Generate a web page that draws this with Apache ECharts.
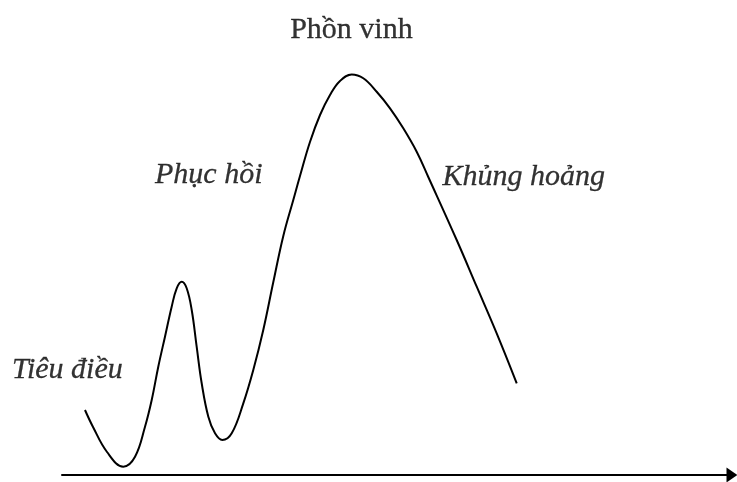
<!DOCTYPE html>
<html>
<head>
<meta charset="utf-8">
<script src="https://cdn.jsdelivr.net/npm/echarts@6/dist/echarts.min.js"></script>
<style>
html,body{margin:0;padding:0;background:#fff;}
#chart{width:737px;height:482px;}
</style>
</head>
<body>
<div id="chart"></div>
<script>
// Business cycle curve (time vs. economic activity)
var timeX = [3.43, 4.63, 6.72, 9.15, 10.90, 12.39, 13.39, 14.37, 15.37, 16.37, 17.12, 17.87, 18.61, 19.36, 20.10, 20.85, 21.84, 22.84, 23.93, 25.33, 27.06, 28.55, 30.04, 31.54, 33.03, 34.52, 35.52, 37.01, 38.51, 40.00, 41.49, 43.24, 44.97, 46.97, 48.96, 50.94, 52.94, 54.67, 58.91, 61.90, 64.88, 67.87];
var activityY = [13.68, 10.11, 4.84, 1.75, 3.85, 10.17, 15.79, 22.80, 29.12, 35.43, 39.31, 40.69, 39.31, 34.74, 27.01, 19.31, 12.27, 8.78, 7.37, 8.78, 15.09, 22.11, 30.53, 40.63, 50.32, 57.89, 62.95, 70.11, 75.79, 80.00, 82.95, 84.32, 83.52, 80.69, 77.20, 72.99, 68.06, 62.74, 49.47, 39.64, 29.83, 19.31];

// Phase labels
var labelNames = ['Tiêu điều', 'Phục hồi', 'Phồn vinh', 'Khủng hoảng'];
var labelX = [0.8, 21.9, 43.2, 68.9];
var labelY = [22.1, 63.2, 93.7, 62.7];
var labelItalic = [true, true, false, true];

var curve = timeX.map(function (x, i) { return [x, activityY[i]]; });
var labels = labelNames.map(function (n, i) {
  return {
    name: n,
    value: [labelX[i], labelY[i]],
    label: { fontStyle: labelItalic[i] ? 'italic' : 'normal', color: '#000' }
  };
});

var chart = echarts.init(document.getElementById('chart'));
chart.setOption({
  animation: false,
  backgroundColor: '#fff',
  grid: { left: 62, right: 5, top: 0, bottom: 7 },
  xAxis: {
    type: 'value', min: 0, max: 100,
    axisLine: { show: true, onZero: false, lineStyle: { color: '#000', width: 2 }, symbol: ['none', 'triangle'], symbolSize: [15, 11] },
    axisTick: { show: false }, axisLabel: { show: false }, splitLine: { show: false }
  },
  yAxis: {
    type: 'value', min: 0, max: 100, show: false,
    splitLine: { show: false }
  },
  series: [
    {
      type: 'line',
      data: curve,
      smooth: 0.4,
      showSymbol: false,
      lineStyle: { color: '#000', width: 2 },
      silent: true
    },
    {
      type: 'scatter',
      data: labels,
      symbolSize: 0,
      silent: true,
      label: {
        show: true,
        position: 'inside',
        formatter: '{b}',
        color: '#000',
        textBorderColor: '#000',
        textBorderWidth: 0.3,
        fontFamily: '"Liberation Serif", "Times New Roman", serif',
        fontSize: 30
      }
    }
  ]
});
</script>
</body>
</html>
